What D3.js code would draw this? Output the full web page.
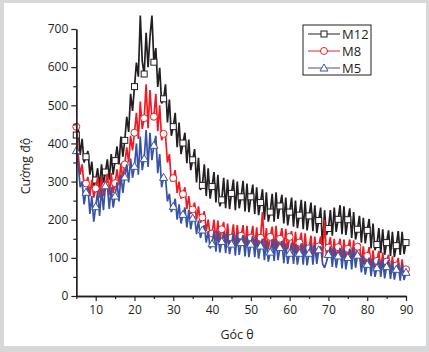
<!DOCTYPE html>
<html>
<head>
<meta charset="utf-8">
<script src="https://cdn.jsdelivr.net/npm/d3@7"></script>
<style>
  html, body { margin: 0; padding: 0; background: #d5d7d8; }
  svg { display: block; }
</style>
</head>
<body>
<div id="chart"></div>
<script>
// Góc θ grid: 5 .. 90 in steps of 0.5
var angles = d3.range(0, 171).map(function(i) { return 5 + i * 0.5; });

// M12 (black)
var m12 = [
  422,438,370,412,350, 365,380,318,352,290,
  304,335,285,345,292, 325,358,305,372,318,
  355,392,345,418,365, 408,470,430,530,485,
  549,612,575,735,615, 582,690,600,680,735,
  613,650,548,598,505, 517,555,455,515,420,
  444,480,390,455,372, 401,428,348,410,330,
  357,385,298,362,278, 290,345,262,335,255,
  287,325,245,318,235, 252,310,230,305,228,
  269,305,225,300,230, 260,302,222,295,220,
  260,292,215,285,212, 245,280,200,272,195,
  220,268,195,272,202, 236,265,190,258,185,
  220,258,182,250,178, 212,252,175,248,172,
  210,245,170,238,165, 198,232,125,225,160,
  177,225,158,232,168, 201,238,162,235,160,
  200,230,152,220,148, 175,210,140,205,138,
  172,202,125,190,120, 135,178,112,175,108,
  140,172,105,168,102, 132,170,108,168,110,
  140
];

// M8 (red)
var m8 = [
  444,370,318,345,290, 295,312,262,305,258,
  282,310,258,315,262, 290,320,265,322,270,
  296,332,290,348,305, 345,390,350,420,382,
  428,480,412,510,438, 466,555,440,540,462,
  470,530,432,500,408, 425,420,350,372,300,
  309,330,270,300,255, 267,285,228,262,215,
  227,245,200,235,192, 206,222,170,200,158,
  164,200,145,198,146, 175,194,136,190,134,
  153,188,130,186,132, 158,186,128,184,126,
  153,184,124,180,126, 153,220,124,178,122,
  155,182,122,184,124, 150,178,118,176,122,
  155,170,114,168,112, 140,166,108,164,106,
  125,158,104,156,102, 130,156,100,200,104,
  127,154,98,150,96, 128,150,96,148,94,
  124,148,92,146,94, 129,138,84,130,80,
  105,128,74,120,70, 92,118,66,114,62,
  90,108,60,104,55, 80,100,52,96,50,
  70
];

// M5 (blue)
var m5 = [
  381,345,285,300,240, 272,285,215,262,195,
  234,275,210,280,225, 289,290,228,285,232,
  262,298,248,318,270, 312,345,298,360,310,
  340,400,318,418,330, 360,435,338,428,356,
  395,420,322,372,285, 311,310,248,268,220,
  235,255,200,240,190, 214,232,180,225,175,
  204,208,162,198,152, 173,185,140,170,125,
  137,170,116,170,114, 143,168,112,166,110,
  136,164,106,164,108, 140,160,104,158,102,
  136,158,102,154,98, 131,150,94,146,90,
  115,148,92,150,94, 127,144,86,138,84,
  112,140,84,136,82, 112,138,82,136,80,
  112,138,82,134,84, 121,130,84,74,90,
  109,130,76,128,74, 105,126,72,124,70,
  101,124,70,126,74, 107,110,62,106,56,
  83,100,52,98,50, 74,98,50,96,46,
  77,94,45,88,43, 70,86,40,84,42,
  62
];

var seriesNames = ["M12", "M8", "M5"];
var xTicks = [10, 20, 30, 40, 50, 60, 70, 80, 90];
var yTicks = [0, 100, 200, 300, 400, 500, 600, 700];

var W = 429, H = 352;
var font = "'Open Sans', 'DejaVu Sans', sans-serif";
var ink = "#231f20";

var svg = d3.select("#chart").append("svg")
  .attr("width", W).attr("height", H);

// white panel inside the gray frame
svg.append("rect")
  .attr("x", 4).attr("y", 3)
  .attr("width", 422).attr("height", 343)
  .attr("fill", "#ffffff");

var x = d3.scaleLinear().domain([5, 90]).range([76.3, 406]);
var y = d3.scaleLinear().domain([0, 700]).range([296, 29]);

var series = [
  { name: seriesNames[0], values: m12, color: "#231f20", shape: "square" },
  { name: seriesNames[1], values: m8,  color: "#ed1c24", shape: "circle" },
  { name: seriesNames[2], values: m5,  color: "#3953a4", shape: "triangle" }
];

var line = d3.line()
  .x(function(d, i) { return x(angles[i]); })
  .y(function(d) { return y(d); });

function drawMarker(g, shape, color, cx, cy) {
  if (shape === "square") {
    g.append("rect")
      .attr("x", cx - 3).attr("y", cy - 3)
      .attr("width", 6).attr("height", 6)
      .attr("fill", "#fff").attr("stroke", color).attr("stroke-width", 1);
  } else if (shape === "circle") {
    g.append("circle")
      .attr("cx", cx).attr("cy", cy).attr("r", 3.5)
      .attr("fill", "#fff").attr("stroke", color).attr("stroke-width", 1);
  } else {
    g.append("path")
      .attr("d", "M" + cx + "," + (cy - 4) + "L" + (cx + 4) + "," + (cy + 3) + "L" + (cx - 4) + "," + (cy + 3) + "Z")
      .attr("fill", "#fff").attr("stroke", color).attr("stroke-width", 1);
  }
}

series.forEach(function(s) {
  var g = svg.append("g");
  g.append("path")
    .datum(s.values)
    .attr("d", line)
    .attr("fill", "none")
    .attr("stroke", s.color)
    .attr("stroke-width", 1.7)
    .attr("stroke-linejoin", "bevel");

  // a symbol on every 5th point (every 2.5°)
  s.values.forEach(function(v, i) {
    if (i % 5 === 0) drawMarker(g, s.shape, s.color, x(angles[i]), y(v));
  });
});

// axes
var xAxis = svg.append("g")
  .attr("transform", "translate(0," + y(0) + ")")
  .call(d3.axisBottom(x).tickValues(xTicks).tickSize(5).tickPadding(4).tickSizeOuter(0));
var xMinor = svg.append("g")
  .attr("transform", "translate(0," + y(0) + ")")
  .call(d3.axisBottom(x).tickValues([5, 15, 25, 35, 45, 55, 65, 75, 85]).tickSize(3).tickFormat("").tickSizeOuter(0));

var yAxis = svg.append("g")
  .attr("transform", "translate(" + x(5) + ",0)")
  .call(d3.axisLeft(y).tickValues(yTicks).tickSize(5).tickPadding(3).tickSizeOuter(0));
var yMinor = svg.append("g")
  .attr("transform", "translate(" + x(5) + ",0)")
  .call(d3.axisLeft(y).tickValues([50, 150, 250, 350, 450, 550, 650]).tickSize(3).tickFormat("").tickSizeOuter(0));

[xAxis, xMinor, yAxis, yMinor].forEach(function(a) {
  a.select(".domain").attr("stroke", ink).attr("stroke-width", 1.3);
  a.selectAll(".tick line").attr("stroke", ink).attr("stroke-width", 1.2);
  a.selectAll("text")
    .attr("fill", ink)
    .style("font-family", font)
    .style("font-size", "12px");
});

// axis titles
svg.append("text")
  .attr("x", 237).attr("y", 339)
  .attr("text-anchor", "middle")
  .attr("fill", ink)
  .style("font-family", font).style("font-size", "12.5px")
  .text("Góc θ");

svg.append("text")
  .attr("transform", "translate(30,166) rotate(-90)")
  .attr("text-anchor", "middle")
  .attr("fill", ink)
  .style("font-family", font).style("font-size", "12.5px")
  .text("Cường độ");

// legend
var legend = svg.append("g");
legend.append("rect")
  .attr("x", 303).attr("y", 25)
  .attr("width", 68).attr("height", 50)
  .attr("fill", "#fff").attr("stroke", ink).attr("stroke-width", 1);

series.forEach(function(s, i) {
  var ly = 34 + i * 17;
  legend.append("line")
    .attr("x1", 308).attr("x2", 340)
    .attr("y1", ly).attr("y2", ly)
    .attr("stroke", s.color).attr("stroke-width", 1);
  drawMarker(legend, s.shape, s.color, 324, ly);
  legend.append("text")
    .attr("x", 342).attr("y", ly + 4.5)
    .attr("fill", ink)
    .style("font-family", font).style("font-size", "13px")
    .text(s.name);
});
</script>
</body>
</html>
